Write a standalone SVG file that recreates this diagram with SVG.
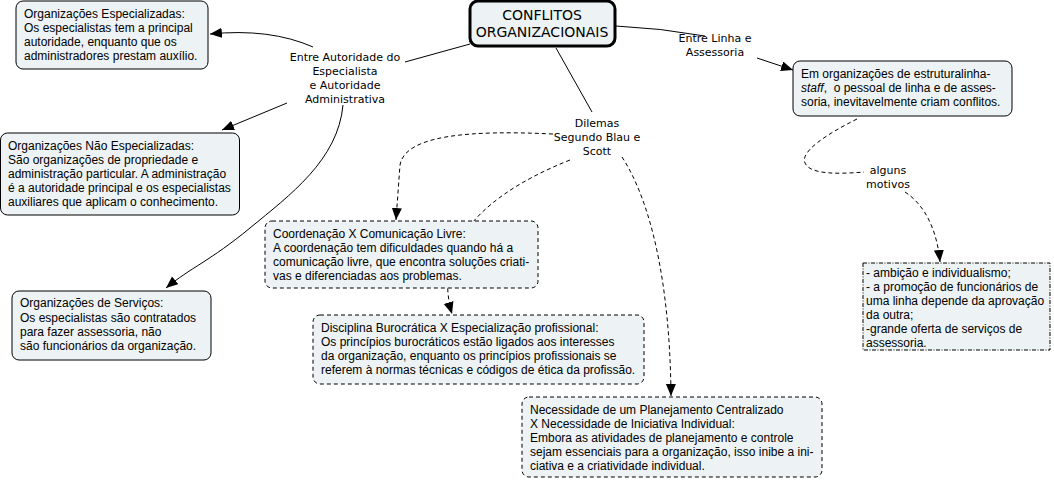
<svg xmlns="http://www.w3.org/2000/svg" width="1054" height="480" viewBox="0 0 1054 480">
<defs>
<marker id="arr" markerUnits="userSpaceOnUse" markerWidth="14" markerHeight="12" refX="12" refY="5" orient="auto">
<path d="M0,0 L12,5 L0,10 z" fill="#000"/>
</marker>
<style>
.box{fill:#edf3f5;stroke:#000;stroke-width:1}
.dash{stroke-dasharray:4,3}
.dd{stroke-dasharray:4,1.5,1,1.5}
.main{fill:#edf3f5;stroke:#000;stroke-width:3}
.t{font-family:"Liberation Sans",Arial,sans-serif;font-size:12px;fill:#000}
.lbl{font-family:"DejaVu Sans",Verdana,sans-serif;font-size:11px;fill:#000;text-anchor:middle}
.title{font-family:"DejaVu Sans",Verdana,sans-serif;font-size:14px;fill:#000;text-anchor:middle}
.c{fill:none;stroke:#000;stroke-width:1}
.cd{fill:none;stroke:#000;stroke-width:1;stroke-dasharray:4,3}
</style>
</defs>
<g id="connectors">
<path class="c" d="M470,44 L405,62"/>
<path class="c" d="M313,47 Q270,28 210,34" marker-end="url(#arr)"/>
<path class="c" d="M287,103 L222,130" marker-end="url(#arr)"/>
<path class="c" d="M343,105 C338,160 290,195 250,228 S190,268 166,288" marker-end="url(#arr)"/>
<path class="c" d="M616,26 Q660,28 705,36"/>
<path class="c" d="M757,58 L793,70" marker-end="url(#arr)"/>
<path class="cd" d="M857,119 C825,135 800,152 805,163 C810,175 840,174 864,172"/>
<path class="cd" d="M905,192 C925,205 937,230 940,262" marker-end="url(#arr)"/>
<path class="c" d="M556,48 L592,112"/>
<path class="cd" d="M553,134 C470,130 405,135 400,165 L396,220" marker-end="url(#arr)"/>
<path class="cd" d="M570,160 C462,203 436,260 452,314" marker-end="url(#arr)"/>
<path class="cd" d="M622,157 C650,200 670,280 671,396" marker-end="url(#arr)"/>
</g>
<g id="central">
<rect class="main" x="470" y="1" width="145" height="45" rx="8"/>
<text class="title" x="542" y="20">CONFLITOS</text>
<text class="title" x="542" y="37">ORGANIZACIONAIS</text>
</g>
<g id="label-autoridade">
<text class="lbl" x="345" y="61">Entre Autoridade do</text>
<text class="lbl" x="345" y="75">Especialista</text>
<text class="lbl" x="345" y="89">e Autoridade</text>
<text class="lbl" x="345" y="103">Administrativa</text>
</g>
<g id="node-especializadas">
<rect class="box" x="16" y="1" width="192" height="68" rx="7"/>
<text class="t" x="24" y="18">Organizações Especializadas:</text>
<text class="t" x="24" y="32">Os especialistas tem a principal</text>
<text class="t" x="24" y="46">autoridade, enquanto que os</text>
<text class="t" x="24" y="60">administradores prestam auxílio.</text>
</g>
<g id="node-nao-especializadas">
<rect class="box" x="0.5" y="133" width="239" height="82" rx="7"/>
<text class="t" x="8" y="150">Organizações Não Especializadas:</text>
<text class="t" x="8" y="164">São organizações de propriedade e</text>
<text class="t" x="8" y="178">administração particular. A administração</text>
<text class="t" x="8" y="192">é a autoridade principal e os especialistas</text>
<text class="t" x="8" y="206">auxiliares que aplicam o conhecimento.</text>
</g>
<g id="node-servicos">
<rect class="box" x="12" y="291" width="199" height="69" rx="7"/>
<text class="t" x="20" y="307">Organizações de Serviços:</text>
<text class="t" x="20" y="322">Os especialistas são contratados</text>
<text class="t" x="20" y="336">para fazer assessoria, não</text>
<text class="t" x="20" y="350">são funcionários da organização.</text>
</g>
<g id="label-linha">
<text class="lbl" x="715" y="42">Entre Linha e</text>
<text class="lbl" x="715" y="56">Assessoria</text>
</g>
<g id="node-linha-staff">
<rect class="box" x="793" y="61" width="219" height="55" rx="7"/>
<text class="t" x="801" y="78">Em organizações de estruturalinha-</text>
<text class="t" x="801" y="92"><tspan font-style="italic">staff</tspan>,&#160; o pessoal de linha e de asses-</text>
<text class="t" x="801" y="106">soria, inevitavelmente criam conflitos.</text>
</g>
<g id="label-motivos">
<text class="lbl" x="888" y="174">alguns</text>
<text class="lbl" x="888" y="188">motivos</text>
</g>
<g id="node-motivos">
<rect class="box dd" x="863" y="263" width="187" height="87"/>
<text class="t" x="866" y="277">- ambição e individualismo;</text>
<text class="t" x="866" y="291">- a promoção de funcionários de</text>
<text class="t" x="866" y="305">uma linha depende da aprovação</text>
<text class="t" x="866" y="319">da outra;</text>
<text class="t" x="866" y="333">-grande oferta de serviços de</text>
<text class="t" x="866" y="347">assessoria.</text>
</g>
<g id="label-dilemas">
<text class="lbl" x="597" y="127">Dilemas</text>
<text class="lbl" x="597" y="141">Segundo Blau e</text>
<text class="lbl" x="597" y="155">Scott</text>
</g>
<g id="node-coordenacao">
<rect class="box dash" x="265" y="221" width="273" height="67" rx="7"/>
<text class="t" x="273" y="238">Coordenação X Comunicação Livre:</text>
<text class="t" x="273" y="252">A coordenação tem dificuldades quando há a</text>
<text class="t" x="273" y="266">comunicação livre, que encontra soluções criati-</text>
<text class="t" x="273" y="280">vas e diferenciadas aos problemas.</text>
</g>
<g id="node-disciplina">
<rect class="box dash" x="313" y="315" width="331" height="69" rx="7"/>
<text class="t" x="321" y="332">Disciplina Burocrática X Especialização profissional:</text>
<text class="t" x="321" y="346">Os princípios burocráticos estão ligados aos interesses</text>
<text class="t" x="321" y="360">da organização, enquanto os princípios profissionais se</text>
<text class="t" x="321" y="374">referem à normas técnicas e códigos de ética da profissão.</text>
</g>
<g id="node-necessidade">
<rect class="box dash" x="522" y="397" width="300" height="80" rx="7"/>
<text class="t" x="530" y="414">Necessidade de um Planejamento Centralizado</text>
<text class="t" x="530" y="428">X Necessidade de Iniciativa Individual:</text>
<text class="t" x="530" y="442">Embora as atividades de planejamento e controle</text>
<text class="t" x="530" y="456">sejam essenciais para a organização, isso inibe a ini-</text>
<text class="t" x="530" y="470">ciativa e a criatividade individual.</text>
</g>
</svg>
